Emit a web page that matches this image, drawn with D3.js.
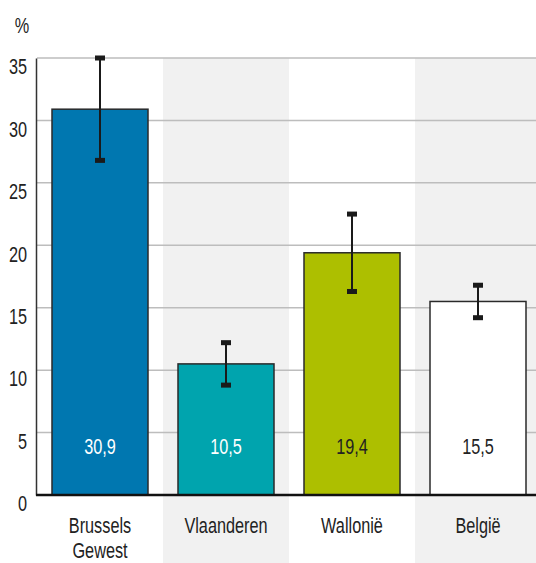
<!DOCTYPE html>
<html>
<head>
<meta charset="utf-8">
<script src="https://cdn.jsdelivr.net/npm/d3@7"></script>
<style>
  body { margin: 0; background: #fff; }
  svg { display: block; font-family: "Liberation Sans", Arial, sans-serif; }
</style>
</head>
<body>
<svg id="vis" width="536" height="563"></svg>
<script>
// data
var regions = ["Brussels Gewest", "Vlaanderen", "Wallonië", "België"];
var values = [30.9, 10.5, 19.4, 15.5];
var lower = [26.8, 8.8, 16.3, 14.2];
var upper = [35.0, 12.2, 22.5, 16.8];
var yTicks = [0, 5, 10, 15, 20, 25, 30, 35];

var barColors = ["#0077b0", "#00a4ae", "#adbf00", "#ffffff"];
var labelColors = ["#ffffff", "#ffffff", "#222222", "#222222"];

var MARGINS = {top: 58, left: 37, bottom: 68};
var width = 536, height = 563;
var FONT = "22px";
var SQUEEZE = 0.74;   // fake a condensed face by squeezing text horizontally

var display = d3.select("#vis");

// place a text at (px, py) squeezed horizontally
function place(px, py) {
    return "translate(" + px + "," + py + ") scale(" + SQUEEZE + ",1)";
}

var xBands = d3.scaleBand()
    .domain(regions)
    .range([MARGINS.left, MARGINS.left + 126 * 4])
    .padding(0);

var x = d3.scaleBand()
    .domain(regions)
    .range([MARGINS.left, MARGINS.left + 126 * 4])
    .paddingInner(30 / 126)
    .paddingOuter(15 / 126);

var y = d3.scaleLinear()
    .domain([0, 35])
    .range([height - MARGINS.bottom, MARGINS.top]);

// alternating grey background bands
display.append("g")
    .selectAll("rect")
    .data(regions.filter(function (d, i) { return i % 2 == 1; }))
    .enter()
    .append("rect")
    .attr("x", function (d) { return xBands(d); })
    .attr("y", y(35))
    .attr("width", xBands.bandwidth())
    .attr("height", height - y(35))
    .attr("fill", "#f1f1f1");

// grid lines
display.append("g")
    .selectAll("line")
    .data(yTicks.slice(1))
    .enter()
    .append("line")
    .attr("x1", MARGINS.left)
    .attr("x2", width)
    .attr("y1", function (d) { return y(d); })
    .attr("y2", function (d) { return y(d); })
    .attr("stroke", "#bdbdbd")
    .attr("stroke-width", 1.5);

// bars
display.append("g")
    .selectAll("rect")
    .data(values)
    .enter()
    .append("rect")
    .attr("x", function (d, i) { return x(regions[i]); })
    .attr("y", function (d) { return y(d); })
    .attr("width", x.bandwidth())
    .attr("height", function (d) { return y(0) - y(d); })
    .attr("fill", function (d, i) { return barColors[i]; })
    .attr("stroke", "#2a2a2a")
    .attr("stroke-width", 1.5);

// value labels inside bars
display.append("g")
    .selectAll("text")
    .data(values)
    .enter()
    .append("text")
    .attr("transform", function (d, i) { return place(x(regions[i]) + x.bandwidth() / 2, y(0) - 41); })
    .attr("text-anchor", "middle")
    .style("font-size", FONT)
    .attr("fill", function (d, i) { return labelColors[i]; })
    .text(function (d) { return String(d).replace(".", ","); });

// error bars
var errs = display.append("g")
    .selectAll("g")
    .data(regions)
    .enter()
    .append("g")
    .attr("transform", function (d) { return "translate(" + (x(d) + x.bandwidth() / 2) + ",0)"; });

errs.append("line")
    .attr("y1", function (d, i) { return y(lower[i]); })
    .attr("y2", function (d, i) { return y(upper[i]); })
    .attr("stroke", "#1a1a1a")
    .attr("stroke-width", 2);

errs.append("rect")
    .attr("x", -5)
    .attr("y", function (d, i) { return y(upper[i]) - 2.5; })
    .attr("width", 10)
    .attr("height", 5)
    .attr("fill", "#1a1a1a");

errs.append("rect")
    .attr("x", -5)
    .attr("y", function (d, i) { return y(lower[i]) - 2.5; })
    .attr("width", 10)
    .attr("height", 5)
    .attr("fill", "#1a1a1a");

// y axis, labels sit a little below their grid line
var yAxis = d3.axisLeft(y)
    .tickValues(yTicks)
    .tickSize(0)
    .tickPadding(9);

var gy = display.append("g")
    .attr("transform", "translate(" + (MARGINS.left - 1) + ",0)")
    .call(yAxis);
gy.select(".domain").attr("stroke", "#333").attr("stroke-width", 1.5);
gy.selectAll("text")
    .style("font-size", FONT)
    .style("font-family", "inherit")
    .attr("x", -9 / SQUEEZE)
    .attr("transform", "scale(" + SQUEEZE + ",1)")
    .attr("dy", "0.72em")
    .attr("fill", "#222");

// x baseline
display.append("line")
    .attr("x1", MARGINS.left - 1)
    .attr("x2", width)
    .attr("y1", y(0))
    .attr("y2", y(0))
    .attr("stroke", "#111")
    .attr("stroke-width", 2.5);

// category labels
var catLabels = display.append("g")
    .selectAll("text")
    .data(regions)
    .enter()
    .append("text")
    .attr("transform", function (d) { return place(x(d) + x.bandwidth() / 2, y(0) + 38); })
    .attr("text-anchor", "middle")
    .style("font-size", FONT)
    .attr("fill", "#222");

catLabels.selectAll("tspan")
    .data(function (d) { return d.split(" "); })
    .enter()
    .append("tspan")
    .attr("x", 0)
    .attr("dy", function (d, i) { return i == 0 ? 0 : 25; })
    .text(function (d) { return d; });

// unit label
display.append("text")
    .attr("transform", place(22, 33))
    .attr("text-anchor", "middle")
    .style("font-size", FONT)
    .attr("fill", "#222")
    .text("%");
</script>
</body>
</html>
